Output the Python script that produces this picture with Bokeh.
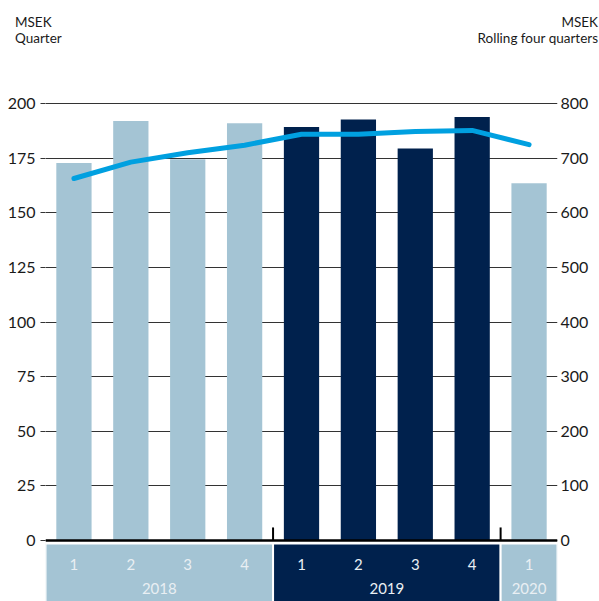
from bokeh.plotting import figure
from bokeh.layouts import column
from bokeh.models import Range1d, LinearAxis, FixedTicker, Span, Div
from bokeh.core.properties import value
from bokeh.embed import file_html
from bokeh.resources import INLINE

# ---- data ----
quarters = ["1", "2", "3", "4", "1", "2", "3", "4", "1"]
bar_years = ["2018", "2018", "2018", "2018", "2019", "2019", "2019", "2019", "2020"]
quarter_values = [172.9, 192.1, 174.6, 191.1, 189.3, 192.8, 179.5, 193.9, 163.6]
rolling_values = [663, 693, 710, 724, 744, 744, 749, 751, 725]
years = ["2018", "2019", "2020"]
year_first_slot = [0, 4, 8]
year_last_slot = [4, 8, 9]
left_ticks = [0, 25, 50, 75, 100, 125, 150, 175, 200]
right_ticks = [0, 100, 200, 300, 400, 500, 600, 700, 800]
left_title = ["MSEK", "Quarter"]
right_title = ["MSEK", "Rolling four quarters"]

LIGHT = "#A4C4D4"
DARK = "#00214D"
LINE = "#00A0E0"
FONT = "Lato"
TXT = "#1a1a1a"
year_colors = {"2018": LIGHT, "2019": DARK, "2020": LIGHT}

xs = [i + 0.5 for i in range(len(quarters))]
bar_colors = [year_colors[y] for y in bar_years]

W, H = 599, 601
HEAD_H = 51
BL, BR, BT = 45, 42, 101 - HEAD_H

# ---- header with the two axis titles ----
def title_block(lines, side, pos):
    out = ""
    for i, t in enumerate(lines):
        top = 14.2 + i * 16.2
        out += (f'<div style="position:absolute;{side}:{pos}px;top:{top}px;white-space:nowrap;'
                f'line-height:16.2px;">{t}</div>')
    return out

head_html = (
    f'<div style="position:relative;width:{W}px;height:{HEAD_H}px;font-family:{FONT};'
    f'font-size:13.5px;color:{TXT};">'
    + title_block(left_title, "left", 15)
    + title_block(right_title, "right", 1)
    + '</div>'
)
header = Div(text=head_html, width=W, height=HEAD_H, margin=(0, 0, 0, 0))

# ---- main chart ----
p = figure(width=W, height=H - HEAD_H, output_backend="svg", toolbar_location=None,
           x_range=Range1d(0, 9), y_range=Range1d(-27.9, 201),
           min_border_left=BL, min_border_right=BR, min_border_top=BT, min_border_bottom=0,
           margin=(0, 0, 0, 0))
p.outline_line_color = None
p.extra_y_ranges = {"right": Range1d(-111.6, 804)}

p.xgrid.visible = False
p.ygrid.ticker = FixedTicker(ticks=left_ticks)
p.ygrid.grid_line_color = "#333333"
p.ygrid.grid_line_width = 1.2

p.xaxis.visible = False
lax = p.yaxis[0]
lax.ticker = FixedTicker(ticks=left_ticks)
lax.axis_line_color = None
lax.major_tick_line_color = "#333333"
lax.major_tick_line_width = 1.2
lax.major_tick_out = 5
lax.major_tick_in = 0
lax.minor_tick_line_color = None
lax.major_label_standoff = 5
lax.major_label_text_font = FONT
lax.major_label_text_font_size = "16px"
lax.major_label_text_color = TXT

rax = LinearAxis(y_range_name="right", ticker=FixedTicker(ticks=right_ticks))
rax.axis_line_color = None
rax.major_tick_line_color = None
rax.major_tick_out = 0
rax.major_tick_in = 0
rax.minor_tick_line_color = None
rax.major_label_standoff = 3
rax.major_label_text_font = FONT
rax.major_label_text_font_size = "16px"
rax.major_label_text_color = TXT
p.add_layout(rax, "right")

# bars
p.vbar(x=xs, top=quarter_values, bottom=0, width=0.62, color=bar_colors, line_color=None)

# zero line
p.add_layout(Span(location=0, dimension="width", line_color="black", line_width=2.6))

# year separator ticks
p.segment(x0=year_first_slot[1:], x1=year_first_slot[1:], y0=[0, 0], y1=[6, 6],
          line_color="black", line_width=2)

# rolling four quarters line
p.line(x=xs, y=rolling_values, y_range_name="right", line_color=LINE, line_width=5,
       line_cap="round", line_join="round")

# category bands
band_colors = [year_colors[y] for y in years]
p.quad(left=year_first_slot, right=year_last_slot, top=-1.4, bottom=-30,
       fill_color=band_colors, line_color="white", line_width=2)
p.text(x=xs, y=[-10.8] * len(xs), text=quarters, text_align="center", text_baseline="middle",
       text_font=value(FONT), text_font_size="15px", text_color="#E9EFF3")
p.text(x=[(a + b) / 2 for a, b in zip(year_first_slot, year_last_slot)], y=[-22] * 3, text=years,
       text_align="center", text_baseline="middle", text_font=value(FONT),
       text_font_size="15px", text_color="#E9EFF3")

layout = column(header, p, spacing=0)
open("out.html", "w").write(file_html(layout, INLINE))
